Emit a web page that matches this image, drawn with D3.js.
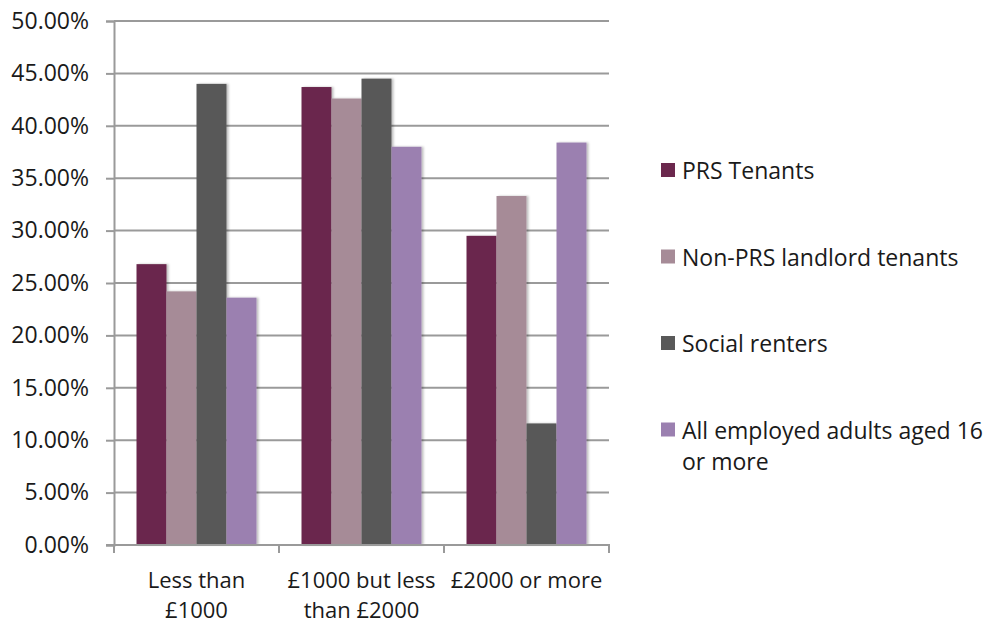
<!DOCTYPE html>
<html>
<head>
<meta charset="utf-8">
<script src="https://cdn.jsdelivr.net/npm/d3@7"></script>
<style>
  html, body { margin: 0; padding: 0; background: #fff; }
  svg { display: block; }
  text { font-family: "Open Sans", Lato, sans-serif; fill: #1a1a1a; }
</style>
</head>
<body>
<svg id="chart" width="989" height="625"></svg>
<script>
// Income bands (two-line labels) and the four groups compared
const categories = ["Less than £1000", "£1000 but less than £2000", "£2000 or more"];
const categoryLines = [["Less than", "£1000"], ["£1000 but less", "than £2000"], ["£2000 or more"]];
const seriesNames = ["PRS Tenants", "Non-PRS landlord tenants", "Social renters", "All employed adults aged 16 or more"];
const seriesColors = ["#6b284d", "#a68b97", "#595959", "#9b80b0"];

// Share of each group in each band (%)
const prsTenants    = [26.8, 43.7, 29.5];
const nonPrsTenants = [24.2, 42.6, 33.3];
const socialRenters = [44.0, 44.5, 11.6];
const allEmployed   = [23.6, 38.0, 38.4];
const seriesValues = [prsTenants, nonPrsTenants, socialRenters, allEmployed];

const yTicks = [0, 5, 10, 15, 20, 25, 30, 35, 40, 45, 50];

const svg = d3.select("#chart");
const plot = { left: 114, right: 609, top: 21, bottom: 545 };

const x0 = d3.scaleBand().domain(categories).range([plot.left, plot.right]).paddingInner(0).paddingOuter(0);
const x1 = d3.scaleBand().domain(seriesNames).range([0, x0.bandwidth()]).paddingOuter(0.75).paddingInner(0);
const y = d3.scaleLinear().domain([0, 50]).range([plot.bottom, plot.top]);

const gridColor = "#9a9a9a";
const fontSize = "23px";

// Horizontal gridlines
svg.append("g")
  .selectAll("line")
  .data(yTicks.filter(d => d > 0))
  .join("line")
  .attr("x1", plot.left).attr("x2", plot.right)
  .attr("y1", d => y(d)).attr("y2", d => y(d))
  .attr("stroke", gridColor).attr("stroke-width", 2);

// Bar shadow
const defs = svg.append("defs");
const f = defs.append("filter").attr("id", "shadow").attr("x", "-20%").attr("y", "-5%").attr("width", "150%").attr("height", "110%");
f.append("feDropShadow").attr("dx", 2).attr("dy", 0).attr("stdDeviation", 1.2).attr("flood-color", "#000").attr("flood-opacity", 0.25);

// Bars
const groups = svg.append("g")
  .selectAll("g")
  .data(categories)
  .join("g")
  .attr("transform", d => `translate(${x0(d)},0)`);

groups.selectAll("rect")
  .data((c, ci) => seriesNames.map((s, si) => ({ s, si, v: seriesValues[si][ci] })))
  .join("rect")
  .attr("x", d => x1(d.s))
  .attr("width", x1.bandwidth())
  .attr("y", d => y(d.v))
  .attr("height", d => y(0) - y(d.v))
  .attr("fill", d => seriesColors[d.si])
  .attr("filter", "url(#shadow)");

// Y axis
const yAxis = d3.axisLeft(y).tickValues(yTicks).tickSize(8).tickPadding(17)
  .tickFormat(d => d.toFixed(2) + "%");
const gy = svg.append("g").attr("transform", `translate(${plot.left},0)`).call(yAxis);
gy.select(".domain").attr("stroke", gridColor).attr("stroke-width", 2);
gy.selectAll(".tick line").attr("stroke", gridColor).attr("stroke-width", 2);
gy.selectAll(".tick text").style("font-size", fontSize).style("font-family", "'Open Sans', sans-serif").attr("fill", "#1a1a1a");

// X axis: line plus tick marks at band boundaries
svg.append("line")
  .attr("x1", plot.left - 8).attr("x2", plot.right + 1)
  .attr("y1", plot.bottom).attr("y2", plot.bottom)
  .attr("stroke", gridColor).attr("stroke-width", 2);
const boundaries = categories.map(c => x0(c)).concat([x0(categories[categories.length - 1]) + x0.bandwidth()]);
svg.append("g")
  .selectAll("line")
  .data(boundaries)
  .join("line")
  .attr("x1", d => d).attr("x2", d => d)
  .attr("y1", plot.bottom).attr("y2", plot.bottom + 8)
  .attr("stroke", gridColor).attr("stroke-width", 2);

// Category labels
const xl = svg.append("g");
categories.forEach((c, i) => {
  const t = xl.append("text")
    .attr("x", x0(c) + x0.bandwidth() / 2)
    .attr("y", 588)
    .attr("text-anchor", "middle")
    .style("font-size", "22px");
  categoryLines[i].forEach((line, li) => {
    t.append("tspan").attr("x", x0(c) + x0.bandwidth() / 2).attr("dy", li === 0 ? 0 : 30).text(line);
  });
});

// Legend
const legendRows = [["PRS Tenants"], ["Non-PRS landlord tenants"], ["Social renters"], ["All employed adults aged 16", "or more"]];
const legend = svg.append("g");
legendRows.forEach((lines, i) => {
  const cy = 171 + i * 86.5;
  legend.append("rect")
    .attr("x", 661).attr("y", cy - 8).attr("width", 14).attr("height", 14)
    .attr("fill", seriesColors[i]);
  const t = legend.append("text")
    .attr("x", 682).attr("y", cy + 8)
    .style("font-size", fontSize);
  lines.forEach((line, li) => {
    t.append("tspan").attr("x", 682).attr("dy", li === 0 ? 0 : 31).text(line);
  });
});
</script>
</body>
</html>
